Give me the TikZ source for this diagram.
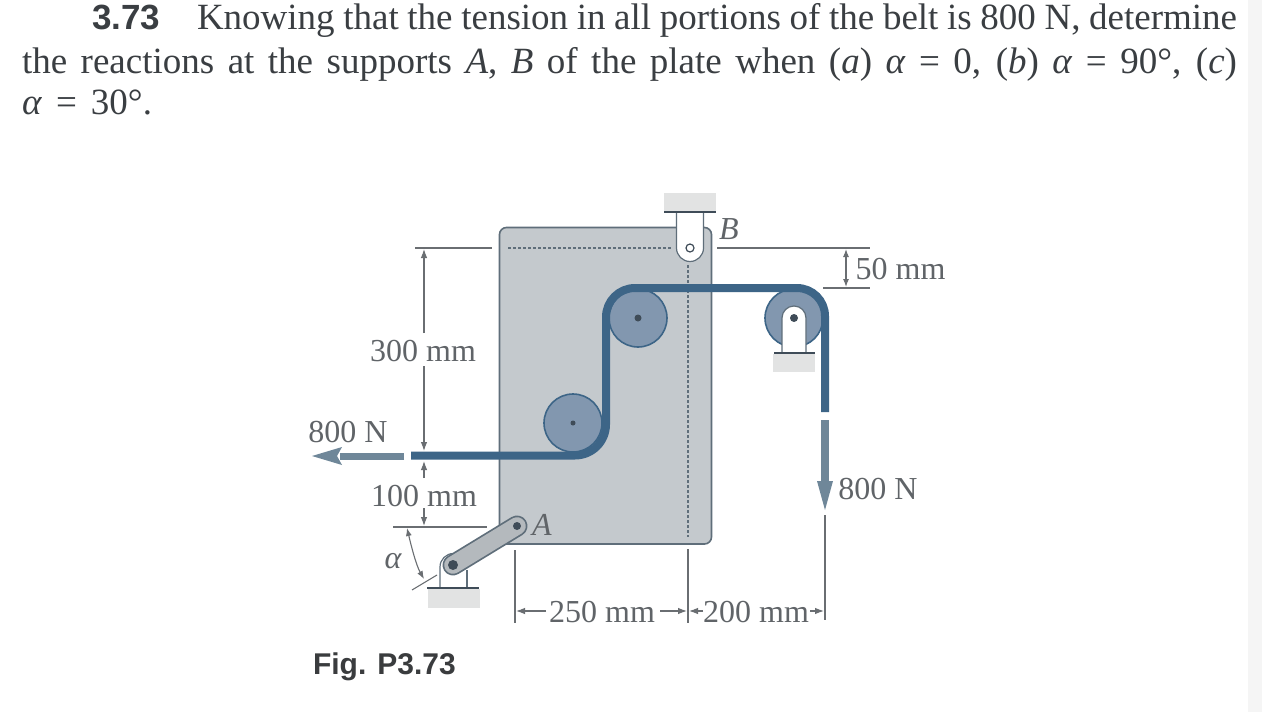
\documentclass[tikz,border=0pt]{standalone}
\usepackage{fontspec}
\setmainfont{Liberation Serif}
\setsansfont{Liberation Sans}
\usetikzlibrary{arrows.meta}
\definecolor{plate}{HTML}{C4C9CD}
\definecolor{edge}{HTML}{5F6E7A}
\definecolor{belt}{HTML}{3D6587}
\definecolor{pulley}{HTML}{8297AF}
\definecolor{force}{HTML}{6F8799}
\definecolor{dimc}{HTML}{6A6E72}
\definecolor{hatch}{HTML}{E2E3E3}
\definecolor{txt}{HTML}{3A3E42}
\definecolor{dimt}{HTML}{606468}
\definecolor{dark}{HTML}{3F4C58}
\tikzset{
  x=1pt,y=-1pt,
  body/.style={anchor=base west,inner sep=0pt,outer sep=0pt,text=txt,font=\fontsize{37}{37}\selectfont},
  dimlabel/.style={inner sep=0pt,outer sep=0pt,text=dimt,font=\fontsize{32}{32}\selectfont,anchor=base},
  dimline/.style={draw=dimc,line width=1.1pt},
  dimarrow/.style={draw=dimc,line width=1.1pt,-{Latex[length=9pt,width=6.5pt]}},
  dimboth/.style={draw=dimc,line width=1.1pt,{Latex[length=8pt,width=6pt]}-{Latex[length=8pt,width=6pt]}},
  beltline/.style={draw=belt,line width=8pt},
  wheel/.style={circle,draw=belt,fill=pulley,line width=1.6pt,minimum size=58pt,inner sep=0pt},
  ground/.style={fill=hatch,draw=none},
  baseline/.style={draw=dark,line width=1.3pt},
  clevis/.style={fill=white,draw=edge,line width=1.2pt},
  pin/.style={circle,fill=dark,minimum size=8pt,inner sep=0pt},
  hidden/.style={draw=edge,line width=1.1pt,densely dashed}
}
\begin{document}
\begin{tikzpicture}
\useasboundingbox (0,0) rectangle (1262,712);
\fill[white] (0,0) rectangle (1262,712);
\fill[black!4] (1248,0) rectangle (1262,712);

% problem text
\node[body,font=\fontsize{35}{35}\selectfont\sffamily\bfseries] (num) at (92,30) {3.73};
\node[body] (l1) at (197,30) {\makebox[1040pt][s]{Knowing that the tension in all portions of the belt is 800 N, determine}};
\node[body] (l2) at (22,73) {\makebox[1215pt][s]{the reactions at the supports \textit{A}, \textit{B} of the plate when (\textit{a}) \textit{α} = 0, (\textit{b}) \textit{α} = 90°, (\textit{c})}};
\node[body] (l3) at (22,114) {\makebox[130pt][s]{\textit{α} = 30°.}};

% plate
\draw[fill=plate,draw=edge,line width=1.6pt,rounded corners=7pt] (499.5,227.5) rectangle (711.5,544);
\coordinate (hL) at (508,248); \coordinate (hR) at (672,248);
\coordinate (vT) at (688,265); \coordinate (vB) at (688,537);
\draw[hidden] (hL) -- (hR);
\draw[hidden] (vT) -- (vB);

% B support
\fill[ground] (664,193) rectangle (716,211);
\draw[clevis] (676.5,212) -- (676.5,248) arc[start angle=180,end angle=0,radius=13.5] -- (703.5,212);
\draw[baseline] (664,212) -- (716,212);
\node[circle,draw=dark,fill=white,line width=1.2pt,minimum size=8pt,inner sep=0pt] (pinB) at (690,248) {};
\node[body,anchor=base,font=\fontsize{32}{32}\selectfont\itshape,text=dimt] (labB) at (729,239) {B};

% right pulley
\fill[ground] (773,354) rectangle (815,372);
\node[wheel] (p3) at (794,318) {};
\draw[clevis] (782,353) -- (782,318) arc[start angle=180,end angle=360,radius=12] -- (806,353);
\draw[baseline] (774,353) -- (815,353);
\node[pin] (pin3) at (794,318) {};

% plate pulleys
\node[wheel] (p1) at (573,423) {};
\node[pin,minimum size=5pt] (pin1) at (573,423) {};
\node[wheel] (p2) at (638,318) {};
\node[pin,minimum size=7pt] (pin2) at (638,318) {};

% belt
\coordinate (bS) at (411,455.5);
\coordinate (bE) at (825,412);
\draw[beltline] (bS) -- (575,455.5) arc[start angle=90,end angle=0,radius=31] -- (606,317) arc[start angle=180,end angle=270,radius=29] -- (797,288) arc[start angle=270,end angle=360,radius=28] -- (bE);

% forces
\coordinate (fLs) at (404,456); \coordinate (fLe) at (312,456);
\draw[force,line width=7pt] (fLs) -- (340,456);
\fill[force] (fLe) -- (342,447) -- (337,456) -- (342,465) -- cycle;
\coordinate (fRs) at (825,420);
\draw[force,line width=8pt] (fRs) -- (825,484);
\fill[force] (825,510) -- (817,481) -- (833,481) -- cycle;
\node[dimlabel] (f1) at (348,442) {800 N};
\node[dimlabel] (f2) at (878,499) {800 N};

% link A and lower support
\fill[ground] (428,589) rectangle (480,608);
\draw[clevis] (440,587) -- (440,567) arc[start angle=180,end angle=300,radius=13.5];
\draw[clevis] (467,587) -- (467,570);
\draw[baseline] (427,588) -- (479,588);
\coordinate (lA) at (517,526); \coordinate (lB) at (453,565);
\draw[draw=edge,line width=21pt,line cap=round] (lA) -- (lB);
\draw[draw=plate!92!black,line width=17.5pt,line cap=round] (lA) -- (lB);
\node[pin] (pinA) at (lA) {};
\node[pin,minimum size=10pt] (pinL) at (lB) {};
\node[body,anchor=base,font=\fontsize{32}{32}\selectfont\itshape,text=dimt] (labA) at (542,535) {A};

% left dimensions
\coordinate (t1) at (415,248); \coordinate (t2) at (492,248);
\coordinate (b1) at (393,527); \coordinate (b2) at (487,527);
\draw[dimline] (t1) -- (t2);
\draw[dimline] (b1) -- (b2);
\node[dimlabel] (d300) at (423,361) {300 mm};
\node[dimlabel] (d100) at (424,506) {100 mm};
\coordinate (a300) at (424,249); \coordinate (a300b) at (424,451);
\coordinate (a100) at (424,461); \coordinate (a100b) at (424,526);
\draw[dimarrow] (424,333) -- (a300);
\draw[dimarrow] (424,366) -- (a300b);
\draw[dimarrow] (424,478) -- (a100);
\draw[dimarrow] (424,508) -- (a100b);

% alpha
\coordinate (tanA) at (412,590); \coordinate (tanB) at (437,575);
\draw[dimline] (tanA) -- (tanB);
\coordinate (arcS) at (407,528); \coordinate (arcE) at (424,579);
\draw[dimboth] (arcS) .. controls (411,545) and (416,565) .. (arcE);
\node[dimlabel,font=\fontsize{32}{32}\selectfont\itshape] (alpha) at (393,568) {α};

% right dimension 50 mm
\coordinate (r1) at (717,248); \coordinate (r2) at (870,248);
\coordinate (r3) at (823,288); \coordinate (r4) at (870,288);
\draw[dimline] (r1) -- (r2);
\draw[dimline] (r3) -- (r4);
\draw[dimboth] (846,249) -- (846,287);
\node[dimlabel] (d50) at (900.5,279) {50 mm};

% bottom dimensions
\coordinate (e1) at (515,550); \coordinate (e1b) at (515,623);
\coordinate (e2) at (688,549); \coordinate (e2b) at (688,623);
\coordinate (e3) at (825,515); \coordinate (e3b) at (825,620);
\draw[dimline] (e1) -- (e1b);
\draw[dimline] (e2) -- (e2b);
\draw[dimline] (e3) -- (e3b);
\node[dimlabel] (d250) at (602,622) {250 mm};
\node[dimlabel] (d200) at (756,622) {200 mm};
\draw[dimarrow] (546,611) -- (516,611);
\draw[dimarrow] (660,611) -- (687,611);
\draw[dimarrow] (703,611) -- (689,611);
\draw[dimarrow] (810,611) -- (824,611);

% caption
\node[body,font=\fontsize{30}{30}\selectfont\sffamily\bfseries,text=dimt!60!black] (cap) at (313,674) {Fig. P3.73};
\end{tikzpicture}
\end{document}
